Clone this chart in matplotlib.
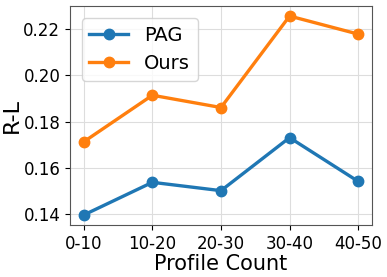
import matplotlib
matplotlib.use("Agg")
import matplotlib.pyplot as plt

# data
categories = ["0-10", "10-20", "20-30", "30-40", "40-50"]
pag = [0.1397, 0.1538, 0.1502, 0.1731, 0.1542]
ours = [0.1713, 0.1914, 0.1861, 0.2256, 0.2178]

fig = plt.figure(figsize=(3.87, 2.77), dpi=100)
ax = fig.add_axes([0.181, 0.188, 0.780, 0.790])

x = range(len(categories))
ax.plot(x, pag, marker="o", color="#1f77b4", linewidth=2.4, markersize=7.5, label="PAG")
ax.plot(x, ours, marker="o", color="#ff7f0e", linewidth=2.4, markersize=7.5, label="Ours")

ax.set_xticks(list(x))
ax.set_xticklabels(categories)
ax.set_yticks([0.14, 0.16, 0.18, 0.20, 0.22])
ax.set_yticklabels(["0.14", "0.16", "0.18", "0.20", "0.22"])
ax.tick_params(labelsize=12)
ax.set_xlabel("Profile Count", fontsize=15, labelpad=1)
ax.set_ylabel("R-L", fontsize=16, labelpad=1)
ax.grid(True, color="#dddddd", linewidth=0.8)
ax.set_axisbelow(True)
for s in ax.spines.values():
    s.set_color("#555555")

ax.legend(fontsize=14, loc="upper left", borderaxespad=0.6)

fig.savefig("out.png", dpi=100)
